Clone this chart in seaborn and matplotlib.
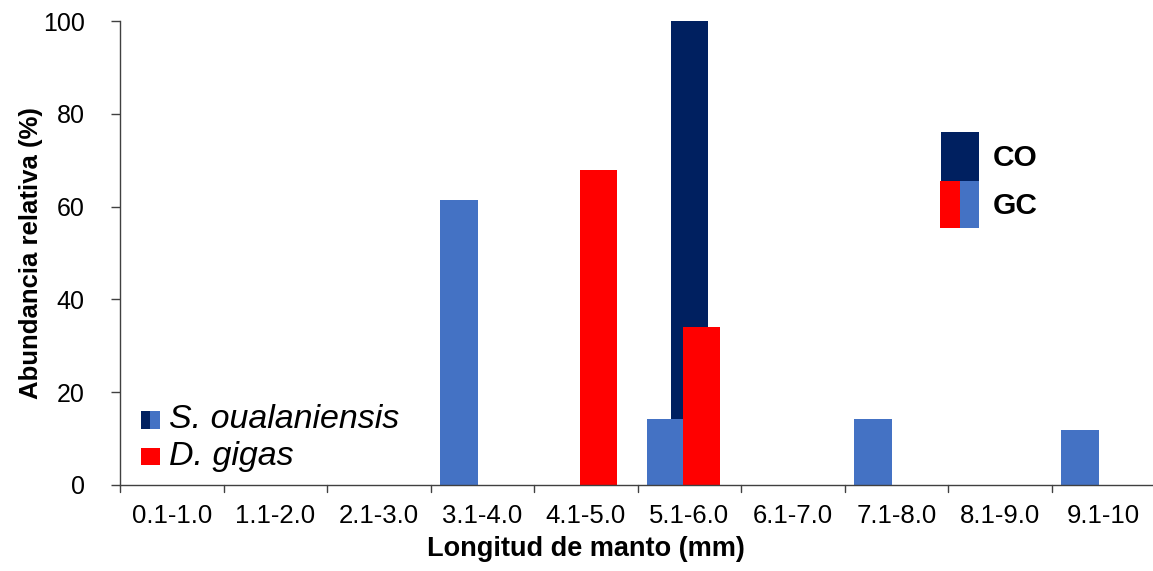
import matplotlib
matplotlib.use('Agg')
import matplotlib.pyplot as plt
import seaborn as sns
import pandas as pd
from matplotlib.patches import Rectangle

sns.set_style('white')
plt.rcParams['font.family'] = ['Liberation Sans', 'DejaVu Sans']
plt.rcParams['text.color'] = 'black'
plt.rcParams['axes.labelcolor'] = 'black'

# Data
categories = ['0.1-1.0', '1.1-2.0', '2.1-3.0', '3.1-4.0', '4.1-5.0',
              '5.1-6.0', '6.1-7.0', '7.1-8.0', '8.1-9.0', '9.1-10']
so_co = [0, 0, 0, 0, 0, 100, 0, 0, 0, 0]
so_gc = [0, 0, 0, 61.4, 0, 14.2, 0, 14.2, 0, 11.9]
dg_gc = [0, 0, 0, 0, 67.9, 34.1, 0, 0, 0, 0]

navy = '#002060'
blue = '#4472C4'
red = '#FF0000'

fig = plt.figure(figsize=(11.53, 5.71), dpi=100)
ax = fig.add_axes([120 / 1153, 1 - 485 / 571, 1035 / 1153, 464 / 571])

# series drawn back to front, each shifted inside its category (Excel-like overlap)
series = [(so_co, navy, 0.0), (so_gc, blue, -0.225), (dg_gc, red, 0.12)]
for vals, col, off in series:
    n0 = len(ax.patches)
    d = pd.DataFrame({'cat': categories, 'val': vals})
    sns.barplot(data=d, x='cat', y='val', color=col, width=0.36,
                saturation=1, ax=ax, errorbar=None)
    for p in ax.patches[n0:]:
        p.set_x(p.get_x() + off)
        p.set_edgecolor('none')

ax.set_xlim(-0.5, 9.5)
ax.set_ylim(0, 100)
ax.set_yticks(range(0, 101, 20))
ax.set_xticks(range(10))
ax.set_xticklabels(categories)
ax.tick_params(axis='x', length=0, labelsize=18.5, pad=13.5, labelcolor='black')
ax.tick_params(axis='y', left=True, length=6.5, width=1, color='#404040',
               labelsize=18, pad=19, labelcolor='black')
# category boundary ticks
for b in range(11):
    ax.plot([b - 0.5, b - 0.5], [0, -1.6], color='#404040', lw=1, clip_on=False)

for s in ['top', 'right']:
    ax.spines[s].set_visible(False)
for s in ['left', 'bottom']:
    ax.spines[s].set_color('#404040')
    ax.spines[s].set_linewidth(1)

ax.set_xlabel('Longitud de manto (mm)', fontsize=19.5, fontweight='bold')
ax.xaxis.set_label_coords(0.45, -0.11)
ax.set_ylabel('Abundancia relativa (%)', fontsize=18.5, fontweight='bold', labelpad=0)


def px_rect(x0, y0, x1, y1, col):
    # rectangle given in figure pixel coordinates (top-left origin)
    fig.patches.append(Rectangle((x0 / 1153, 1 - y1 / 571), (x1 - x0) / 1153,
                                 (y1 - y0) / 571, transform=fig.transFigure,
                                 facecolor=col, edgecolor='none'))


# legend: CO / GC
px_rect(941, 132, 979, 181, navy)
px_rect(940, 181, 960, 228, red)
px_rect(960, 181, 979, 228, blue)
fig.text(993 / 1153, 1 - 158 / 571, 'CO', fontsize=21.5, fontweight='bold', va='center')
fig.text(993 / 1153, 1 - 206 / 571, 'GC', fontsize=21.5, fontweight='bold', va='center')

# legend: species
px_rect(141, 411, 150, 429, navy)
px_rect(150, 411, 160, 429, blue)
px_rect(141, 448, 160, 465, red)
fig.text(169 / 1153, 1 - 420 / 571, 'S. oualaniensis', fontsize=24.5, style='italic', va='center')
fig.text(169 / 1153, 1 - 457 / 571, 'D. gigas', fontsize=24.5, style='italic', va='center')

fig.savefig('out.png', dpi=100)
